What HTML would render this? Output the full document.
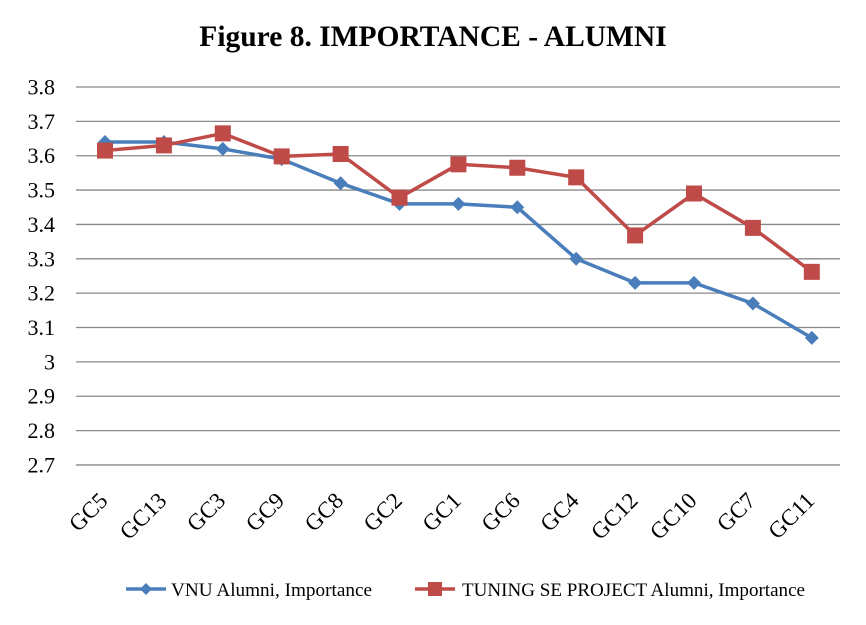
<!DOCTYPE html>
<html><head><meta charset="utf-8"><style>body{margin:0;background:#fff}</style></head><body>
<svg width="866" height="620" xmlns="http://www.w3.org/2000/svg" font-family="Liberation Serif, serif">
<rect width="866" height="620" fill="#fff"/>
<text x="433" y="46" text-anchor="middle" font-size="29.5" font-weight="bold">Figure 8. IMPORTANCE - ALUMNI</text>
<g id="grid" stroke="#888" stroke-width="1.3"></g>
<g id="yl" font-size="22" text-anchor="end"></g>
<g id="xl" font-size="23" text-anchor="end"></g>
<polyline id="vnu" fill="none" stroke="#4a7ebb" stroke-width="3.5"/>
<polyline id="tun" fill="none" stroke="#be4b48" stroke-width="3.5"/>
<g id="mk"></g>
<line x1="126" y1="589" x2="166" y2="589" stroke="#4a7ebb" stroke-width="3.5"/>
<polygon points="146,583 152,589 146,595 140,589" fill="#4a7ebb"/>
<text x="171" y="596" font-size="19" textLength="201" lengthAdjust="spacingAndGlyphs">VNU Alumni, Importance</text>
<line x1="415" y1="589" x2="455" y2="589" stroke="#be4b48" stroke-width="3.5"/>
<rect x="428" y="582" width="14" height="14" fill="#be4b48"/>
<text x="462" y="596" font-size="19" textLength="343" lengthAdjust="spacingAndGlyphs">TUNING SE PROJECT Alumni, Importance</text>
<script>
var ns="http://www.w3.org/2000/svg";
function Y(v){return 87+(3.8-v)*343.6;}
function el(t,a,p,txt){var e=document.createElementNS(ns,t);for(var k in a)e.setAttribute(k,a[k]);if(txt)e.textContent=txt;document.getElementById(p).appendChild(e);}
for(var i=0;i<=11;i++){var v=3.8-i*0.1,y=Y(v);el('line',{x1:76,x2:840,y1:y,y2:y},'grid');
var s=(Math.round(v*10)/10).toString();el('text',{x:55,y:y+7.5},'yl',s);}
var labs=["GC5","GC13","GC3","GC9","GC8","GC2","GC1","GC6","GC4","GC12","GC10","GC7","GC11"];
var a=[3.64,3.64,3.62,3.59,3.52,3.46,3.46,3.45,3.30,3.23,3.23,3.17,3.07];
var b=[3.615,3.63,3.665,3.598,3.605,3.478,3.575,3.565,3.537,3.368,3.49,3.39,3.262];
var pa=[],pb=[];
labs.forEach(function(l,i){var x=105+i*58.9;
el('text',{x:x+4,y:502,transform:'rotate(-45 '+(x+4)+' 502)'},'xl',l);
pa.push(x+','+Y(a[i]));pb.push(x+','+Y(b[i]));});
document.getElementById('vnu').setAttribute('points',pa.join(' '));
document.getElementById('tun').setAttribute('points',pb.join(' '));
labs.forEach(function(l,i){var x=105+i*58.9,y=Y(a[i]);
el('polygon',{points:x+','+(y-7)+' '+(x+7)+','+y+' '+x+','+(y+7)+' '+(x-7)+','+y,fill:'#4a7ebb'},'mk');});
labs.forEach(function(l,i){var x=105+i*58.9,y=Y(b[i]);
el('rect',{x:x-8,y:y-8,width:16,height:16,fill:'#be4b48'},'mk');});
</script>
</svg>
</body></html>
